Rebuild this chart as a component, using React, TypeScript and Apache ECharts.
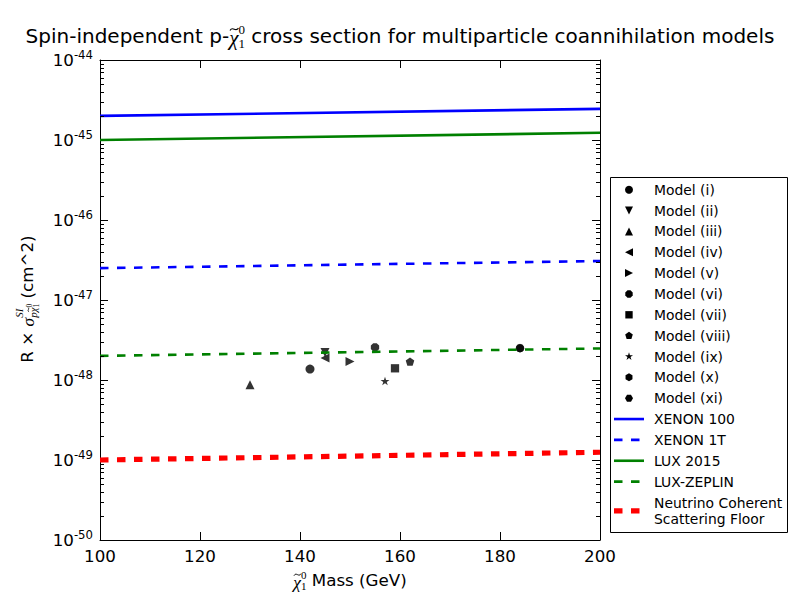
import React, { useEffect, useRef, useState } from "react";
import * as echarts from "echarts";

// ---------- data ----------
const massTicks = [100, 120, 140, 160, 180, 200];
const modelNames = [
  "Model (i)", "Model (ii)", "Model (iii)", "Model (iv)", "Model (v)", "Model (vi)",
  "Model (vii)", "Model (viii)", "Model (ix)", "Model (x)", "Model (xi)",
];
const modelMass = [142, 145, 130, 145, 150, 155, 159, 162, 157, 184, 184];
const modelSigma = [1.37e-48, 2.2e-48, 8.7e-49, 1.88e-48, 1.7e-48, 2.56e-48, 1.4e-48, 1.7e-48, 9.7e-49, 2.5e-48, 2.5e-48];
const modelMarkers = ["o", "v", "^", "<", ">", "8", "s", "p", "*", "h", "H"];

const limitNames = ["XENON 100", "XENON 1T", "LUX 2015", "LUX-ZEPLIN", "Neutrino Coherent\nScattering Floor"];
const limitMass = [100, 200];
const xenon100 = [2.0e-45, 2.45e-45];
const xenon1T = [2.5e-47, 3.07e-47];
const lux2015 = [1.0e-45, 1.23e-45];
const luxZeplin = [2.0e-48, 2.48e-48];
const neutrinoFloor = [1.0e-49, 1.25e-49];
const limitValues = [xenon100, xenon1T, lux2015, luxZeplin, neutrinoFloor];
const limitColors = ["#0000ff", "#0000ff", "#008000", "#008000", "#ff0000"];
const limitDashed = [false, true, false, true, true];
const limitWidths = [2.6, 2.6, 2.6, 2.6, 5.2];

// y axis: decades (exponents of 10) from 1e-50 to 1e-44
const yExpMin = -50;
const yExpMax = -44;
const decadeExponents = [-50, -49, -48, -47, -46, -45];
const minorMultipliers = [2, 3, 4, 5, 6, 7, 8, 9];

// ---------- helpers ----------
const SANS = "'DejaVu Sans', sans-serif";
const SERIF = "'Liberation Serif', 'DejaVu Serif', serif";
const DASH = [8.5, 8.5];
const lg = (v: number) => Math.log10(v);

function polyPoints(n: number, r: number, rotDeg: number, cx: number, cy: number, inner?: number) {
  const pts: number[][] = [];
  const count = inner ? n * 2 : n;
  for (let k = 0; k < count; k++) {
    const ang = ((-90 + rotDeg + (k * 360) / count) * Math.PI) / 180;
    const rr = inner && k % 2 === 1 ? r * inner : r;
    pts.push([cx + rr * Math.cos(ang), cy + rr * Math.sin(ang)]);
  }
  return pts;
}

function markerPoints(m: string, cx: number, cy: number, s: number): number[][] | null {
  const h = s / 2;
  switch (m) {
    case "^": return [[cx, cy - h], [cx + h, cy + h], [cx - h, cy + h]];
    case "v": return [[cx, cy + h], [cx + h, cy - h], [cx - h, cy - h]];
    case "<": return [[cx - h, cy], [cx + h, cy - h], [cx + h, cy + h]];
    case ">": return [[cx + h, cy], [cx - h, cy - h], [cx - h, cy + h]];
    case "s": { const q = h * 0.92; return [[cx - q, cy - q], [cx + q, cy - q], [cx + q, cy + q], [cx - q, cy + q]]; }
    case "p": return polyPoints(5, h, 0, cx, cy);
    case "*": return polyPoints(5, h * 1.05, 0, cx, cy, 0.381966);
    case "h": return polyPoints(6, h, 0, cx, cy);
    case "H": return polyPoints(6, h, 30, cx, cy);
    case "8": return polyPoints(8, h, 22.5, cx, cy);
    default: return null;
  }
}

function symbolFor(m: string, s: number) {
  const pts = markerPoints(m, 0, 0, s);
  if (!pts) return { symbol: "circle", symbolSize: s };
  const xs = pts.map((p) => p[0]);
  const ys = pts.map((p) => p[1]);
  const w = Math.max(...xs) - Math.min(...xs);
  const hh = Math.max(...ys) - Math.min(...ys);
  const d = "path://M" + pts.map((p) => `${(p[0] * 10 + 100).toFixed(2)} ${(p[1] * 10 + 100).toFixed(2)}`).join(" L") + " Z";
  return { symbol: d, symbolSize: [w, hh] };
}

type Seg =
  | { t: string; size: number; serif?: boolean; italic?: boolean; dy?: number; tilde?: boolean }
  | { top: Seg[]; bottom: Seg[] };

let measureCtx: CanvasRenderingContext2D | null = null;
function measure(text: string, font: string) {
  if (!measureCtx) measureCtx = document.createElement("canvas").getContext("2d");
  measureCtx!.font = font;
  return measureCtx!.measureText(text).width;
}

function textEl(text: string, x: number, y: number, size: number, fam: string, italic: boolean, align = "left") {
  return {
    type: "text",
    x,
    y,
    style: {
      text,
      fontSize: size,
      fontFamily: fam,
      fontStyle: italic ? "italic" : "normal",
      fill: "#000",
      textAlign: align,
      textVerticalAlign: "middle",
      align,
      verticalAlign: "middle",
    },
  };
}

function tildeEl(cx: number, cy: number, size: number) {
  const hw = size * 0.2;
  const a = size * 0.06;
  return {
    type: "bezierCurve",
    x: 0,
    y: 0,
    shape: {
      x1: cx - hw, y1: cy + a,
      cpx1: cx - hw * 0.35, cpy1: cy - a * 3,
      cpx2: cx + hw * 0.35, cpy2: cy + a * 3,
      x2: cx + hw, y2: cy - a,
    },
    style: { stroke: "#000", fill: null, lineWidth: Math.max(0.8, size * 0.055) },
  };
}

function layoutSeq(segs: Seg[], x0: number): { els: any[]; w: number } {
  let x = x0;
  const els: any[] = [];
  for (const s of segs) {
    if ("top" in s) {
      const a = layoutSeq(s.top, x);
      const b = layoutSeq(s.bottom, x);
      els.push(...a.els, ...b.els);
      x += Math.max(a.w, b.w);
    } else {
      const fam = s.serif ? SERIF : SANS;
      const font = `${s.italic ? "italic " : ""}${s.size}px ${fam}`;
      const w = measure(s.t, font);
      const dy = s.dy || 0;
      els.push(textEl(s.t, x, dy, s.size, fam, !!s.italic));
      if (s.tilde) {
        els.push(tildeEl(x + w * 0.55, dy - s.size * 0.42, s.size));
      }
      x += w;
    }
  }
  return { els, w: x - x0 };
}

function mathGroup(segs: Seg[], cx: number, cy: number, rotation = 0) {
  const { els, w } = layoutSeq(segs, 0);
  els.forEach((e) => {
    if (e.type === "text") e.x -= w / 2;
    else e.x = -w / 2;
  });
  return { type: "group", x: cx, y: cy, rotation, children: els, silent: true, z: 100 };
}

const CHI = "\u03C7";

export default function App() {
  const ref = useRef<HTMLDivElement>(null);
  const [err, setErr] = useState("");

  useEffect(() => {
    if (!ref.current) return;
    const chart = echarts.init(ref.current, undefined, { renderer: "svg" });

    try {
      const grid = { left: 100, top: 60, width: 500, height: 480, containLabel: false, outerBoundsMode: "none" };

      const scatterSeries = modelNames.map((name, i) => {
        const sym = symbolFor(modelMarkers[i], 9);
        return {
          type: "scatter",
          name,
          xAxisIndex: 0,
          yAxisIndex: 0,
          symbol: sym.symbol,
          symbolSize: sym.symbolSize,
          itemStyle: { color: "#000" },
          data: [[modelMass[i], lg(modelSigma[i])]],
          z: 2,
          silent: true,
        };
      });

      const lineSeries = limitNames.map((name, i) => ({
        type: "line",
        name,
        xAxisIndex: 0,
        yAxisIndex: 0,
        symbol: "none",
        lineStyle: {
          color: limitColors[i],
          width: limitWidths[i],
          type: limitDashed[i] ? DASH : "solid",
        },
        data: limitMass.map((m, k) => [m, lg(limitValues[i][k])]),
        z: 3,
        silent: true,
      }));

      const minorTickValues = decadeExponents.flatMap((e) => minorMultipliers.map((m) => e + lg(m)));
      const minorSeries = {
        type: "custom",
        coordinateSystem: "cartesian2d",
        xAxisIndex: 0,
        yAxisIndex: 0,
        silent: true,
        z: 5,
        data: minorTickValues.map((v) => [massTicks[0], v]),
        renderItem: (params: any, api: any) => {
          const cs = params.coordSys;
          const y = Math.round(api.coord([api.value(0), api.value(1)])[1]) + 0.5;
          return {
            type: "group",
            children: [
              { type: "line", shape: { x1: cs.x, y1: y, x2: cs.x + 4, y2: y }, style: { stroke: "#000", lineWidth: 1 } },
              { type: "line", shape: { x1: cs.x + cs.width - 4, y1: y, x2: cs.x + cs.width, y2: y }, style: { stroke: "#000", lineWidth: 1 } },
            ],
          };
        },
      };

      // legend built as graphic
      const legendEls: any[] = [];
      const lx = 610.5, ly = 177.5, lw = 177, lh = 355;
      legendEls.push({
        type: "rect",
        shape: { x: lx, y: ly, width: lw, height: lh },
        style: { fill: "#fff", stroke: "#000", lineWidth: 1 },
        z: 90,
        silent: true,
      });
      const rowY = (i: number) => 189.7 + i * 20.85;
      const legendText = (text: string, y: number) => ({
        type: "text",
        x: 654,
        y,
        z: 92,
        silent: true,
        style: {
          text,
          fontSize: 13.9,
          fontFamily: SANS,
          fill: "#000",
          lineHeight: 15.8,
          textAlign: "left",
          textVerticalAlign: "middle",
          align: "left",
          verticalAlign: "middle",
        },
      });
      modelNames.forEach((name, i) => {
        const y = rowY(i);
        const pts = markerPoints(modelMarkers[i], 629, y, 8);
        if (pts) {
          legendEls.push({ type: "polygon", shape: { points: pts }, style: { fill: "#000" }, z: 92, silent: true });
        } else {
          legendEls.push({ type: "circle", shape: { cx: 629, cy: y, r: 4 }, style: { fill: "#000" }, z: 92, silent: true });
        }
        legendEls.push(legendText(name, y));
      });
      limitNames.forEach((name, i) => {
        const idx = modelNames.length + i;
        const y = i === limitNames.length - 1 ? rowY(idx - 1) + 20.85 + 8.5 : rowY(idx);
        legendEls.push({
          type: "line",
          shape: { x1: 614, y1: y, x2: 644, y2: y },
          style: {
            stroke: limitColors[i],
            lineWidth: limitWidths[i],
            lineDash: limitDashed[i] ? DASH : null,
          },
          z: 92,
          silent: true,
        });
        legendEls.push(legendText(name, y));
      });

      const titleSegs: Seg[] = [
        { t: "Spin-independent p-", size: 20 },
        { t: CHI, size: 21, serif: true, italic: true, dy: 2, tilde: true },
        { top: [{ t: "0", size: 13, serif: true, dy: -7 }], bottom: [{ t: "1", size: 13, serif: true, dy: 7 }] },
        { t: " cross section for multiparticle coannihilation models", size: 20 },
      ];
      const xLabelSegs: Seg[] = [
        { t: CHI, size: 17.5, serif: true, italic: true, dy: 2, tilde: true },
        { top: [{ t: "0", size: 11, serif: true, dy: -5 }], bottom: [{ t: "1", size: 11, serif: true, dy: 6 }] },
        { t: " Mass (GeV)", size: 16.7 },
      ];
      const yLabelSegs: Seg[] = [
        { t: "R \u00D7 ", size: 16.7 },
        { t: "\u03C3", size: 17.5, serif: true, italic: true, dy: 1 },
        {
          top: [{ t: "SI", size: 11, serif: true, italic: true, dy: -8 }],
          bottom: [
            { t: "p", size: 11, serif: true, italic: true, dy: 6 },
            { t: CHI, size: 11, serif: true, italic: true, dy: 6, tilde: true },
            { top: [{ t: "0", size: 7.5, serif: true, dy: 2 }], bottom: [{ t: "1", size: 7.5, serif: true, dy: 9 }] },
          ],
        },
        { t: " (cm^2)", size: 16.7 },
      ];

      const axisLineStyle = { color: "#000", width: 1 };

      chart.setOption({
        animation: false,
        backgroundColor: "#fff",
        grid,
        xAxis: [
          {
            type: "value",
            position: "bottom",
            min: massTicks[0],
            max: massTicks[massTicks.length - 1],
            interval: massTicks[1] - massTicks[0],
            axisLine: { show: true, onZero: false, lineStyle: axisLineStyle },
            axisTick: { show: true, inside: true, length: 8, lineStyle: axisLineStyle },
            axisLabel: { color: "#000", fontSize: 16.7, fontFamily: SANS, margin: 7, showMinLabel: true, showMaxLabel: true },
            splitLine: { show: false },
          },
          {
            type: "value",
            position: "top",
            min: massTicks[0],
            max: massTicks[massTicks.length - 1],
            interval: massTicks[1] - massTicks[0],
            axisLine: { show: true, onZero: false, lineStyle: axisLineStyle },
            axisTick: { show: true, inside: true, length: 8, lineStyle: axisLineStyle },
            axisLabel: { show: false },
            splitLine: { show: false },
          },
        ],
        yAxis: [
          {
            type: "value",
            position: "left",
            min: yExpMin,
            max: yExpMax,
            interval: 1,
            axisLine: { show: true, onZero: false, lineStyle: axisLineStyle },
            axisTick: { show: true, inside: true, length: 8, lineStyle: axisLineStyle },
            axisLabel: {
              margin: 7,
              showMinLabel: true,
              showMaxLabel: true,
              formatter: (v: number) => `{b|10}{e|${Math.round(v)}}`,
              rich: {
                b: { fontSize: 16.7, fontFamily: SANS, color: "#000", lineHeight: 22 },
                e: { fontSize: 11.7, fontFamily: SANS, color: "#000", lineHeight: 12, verticalAlign: "top" },
              },
            },
            splitLine: { show: false },
          },
          {
            type: "value",
            position: "right",
            min: yExpMin,
            max: yExpMax,
            interval: 1,
            axisLine: { show: true, onZero: false, lineStyle: axisLineStyle },
            axisTick: { show: true, inside: true, length: 8, lineStyle: axisLineStyle },
            axisLabel: { show: false },
            splitLine: { show: false },
          },
        ],
        series: [...scatterSeries, ...lineSeries, minorSeries],
        graphic: {
          elements: [
            mathGroup(titleSegs, 400, 36),
            mathGroup(xLabelSegs, 350, 580),
            mathGroup(yLabelSegs, 27, 299, Math.PI / 2),
            ...legendEls,
          ],
        },
      });
    } catch (e: any) {
      setErr(String(e && e.stack ? e.stack : e));
    }

    return () => chart.dispose();
  }, []);

  return (
    <div style={{ position: "fixed", left: 0, top: 0, width: 800, height: 600 }}>
      <div ref={ref} style={{ width: 800, height: 600, background: "#fff" }} />
      {err ? (
        <pre style={{ position: "absolute", left: 120, top: 80, width: 460, fontSize: 10, whiteSpace: "pre-wrap", color: "#c00", margin: 0 }}>{err}</pre>
      ) : null}
    </div>
  );
}
